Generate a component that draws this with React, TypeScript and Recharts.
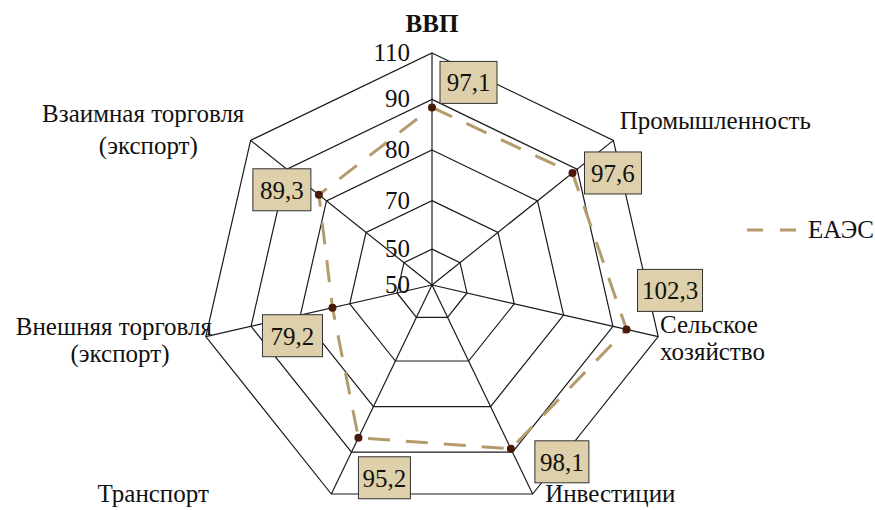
import React from 'react';
import { RadarChart, Radar, PolarGrid, PolarAngleAxis, PolarRadiusAxis, LabelList, Legend } from 'recharts';

const categories = [
  'ВВП',
  'Промышленность',
  'Сельское хозяйство',
  'Инвестиции',
  'Транспорт',
  'Внешняя торговля (экспорт)',
  'Взаимная торговля (экспорт)',
];
const eaesValues = [97.1, 97.6, 102.3, 98.1, 95.2, 79.2, 89.3];
const radiusTicks = [55, 63.5, 75, 87, 99, 110];
const radiusTickLabels = ['50', '50', '70', '80', '90', '110'];
const seriesName = 'ЕАЭС';

const data = categories.map((c, i) => ({ name: c, value: eaesValues[i] }));

const FONT = '"Liberation Serif", "Times New Roman", serif';
const FS = 25;
const LINE_COLOR = '#b39b6b';
const DOT_COLOR = '#4a1a08';

type Line = { t: string; dx: number; dy: number; anchor: 'start' | 'middle' | 'end'; bold?: boolean };
const angleLabelLayout: Line[][] = [
  [{ t: 'ВВП', dx: 0, dy: -13, anchor: 'middle', bold: true }],
  [{ t: 'Промышленность', dx: 0, dy: -6, anchor: 'start' }],
  [
    { t: 'Сельское', dx: -6, dy: -5, anchor: 'start' },
    { t: 'хозяйство', dx: -6, dy: 22, anchor: 'start' },
  ],
  [{ t: 'Инвестиции', dx: 9, dy: 1, anchor: 'start' }],
  [{ t: 'Транспорт', dx: -119, dy: 1, anchor: 'end' }],
  [
    { t: 'Внешняя торговля', dx: 14, dy: -3, anchor: 'end' },
    { t: '(экспорт)', dx: -78, dy: 24, anchor: 'middle' },
  ],
  [
    { t: 'Взаимная торговля', dx: 0, dy: -13, anchor: 'end' },
    { t: '(экспорт)', dx: -96, dy: 19, anchor: 'middle' },
  ],
];

const boxLayout = [
  { dx: 8, dy: -46, w: 57 },
  { dx: 12, dy: -21, w: 57 },
  { dx: 11, dy: -60, w: 65 },
  { dx: 24, dy: -8, w: 54 },
  { dx: 0, dy: 19, w: 52 },
  { dx: -70, dy: 7, w: 60 },
  { dx: -66, dy: -26, w: 58 },
];

const AngleTick = (props: any) => {
  const { x, y, payload } = props;
  const idx = categories.indexOf(payload.value);
  const lines = angleLabelLayout[idx] || [];
  return (
    <g>
      {lines.map((l, i) => (
        <text
          key={i}
          x={x + l.dx}
          y={y + l.dy}
          textAnchor={l.anchor}
          fontFamily={FONT}
          fontSize={FS}
          fontWeight={l.bold ? 'bold' : 'normal'}
          fill="#111"
        >
          {l.t}
        </text>
      ))}
    </g>
  );
};

const RadiusTick = (props: any) => {
  const { x, y, payload } = props;
  const idx = radiusTicks.indexOf(payload.value);
  return (
    <text x={x - 22} y={y + 8} textAnchor="end" fontFamily={FONT} fontSize={FS} fill="#111">
      {radiusTickLabels[idx]}
    </text>
  );
};

const ValueBox = (props: any) => {
  const { x, y, value, index } = props;
  const b = boxLayout[index];
  if (!b) return null;
  const bx = x + b.dx;
  const by = y + b.dy;
  const h = 42;
  return (
    <g>
      <rect x={bx} y={by} width={b.w} height={h} fill="#ddd0aa" stroke="#333" strokeWidth={1} />
      <text
        x={bx + b.w / 2}
        y={by + 30}
        textAnchor="middle"
        fontFamily={FONT}
        fontSize={FS}
        fill="#111"
      >
        {Number(value).toFixed(1).replace('.', ',')}
      </text>
    </g>
  );
};

const Dot = (props: any) => {
  const { cx, cy } = props;
  return <circle cx={cx} cy={cy} r={4} fill={DOT_COLOR} stroke="none" />;
};

const LegendContent = (props: any) => {
  const items = props.payload || [];
  return (
    <svg width={135} height={32}>
      {items.map((it: any, i: number) => (
        <g key={i}>
          <line x1={7} y1={16} x2={56} y2={16} stroke={LINE_COLOR} strokeWidth={3} strokeDasharray="16 17" />
          <text x={68} y={24} fontFamily={FONT} fontSize={FS} fill="#111">
            {it.value}
          </text>
        </g>
      ))}
    </svg>
  );
};

export default function App() {
  return (
    <div style={{ position: 'absolute', left: 0, top: 0, width: 875, height: 510, background: '#fff' }}>
      <RadarChart
        width={875}
        height={510}
        data={data}
        cx={432}
        cy={285}
        outerRadius={232}
        startAngle={90}
        endAngle={-270}
        margin={{ top: 0, right: 0, bottom: 0, left: 0 }}
      >
        <PolarGrid gridType="polygon" stroke="#1a1a1a" strokeWidth={1.2} />
        <PolarAngleAxis dataKey="name" tick={<AngleTick />} tickLine={false} axisLine={false} />
        <PolarRadiusAxis
          angle={90}
          type="number"
          domain={[55, 110]}
          ticks={radiusTicks}
          tick={<RadiusTick />}
          axisLine={false}
          tickLine={false}
        />
        <Radar
          name={seriesName}
          dataKey="value"
          stroke={LINE_COLOR}
          strokeWidth={3}
          strokeDasharray="22 16"
          fill="none"
          fillOpacity={0}
          dot={<Dot />}
          isAnimationActive={false}
        >
          <LabelList dataKey="value" content={<ValueBox />} />
        </Radar>
        <Legend
          content={<LegendContent />}
          wrapperStyle={{ position: 'absolute', left: 740, top: 214, width: 135, height: 32 }}
        />
      </RadarChart>
    </div>
  );
}
